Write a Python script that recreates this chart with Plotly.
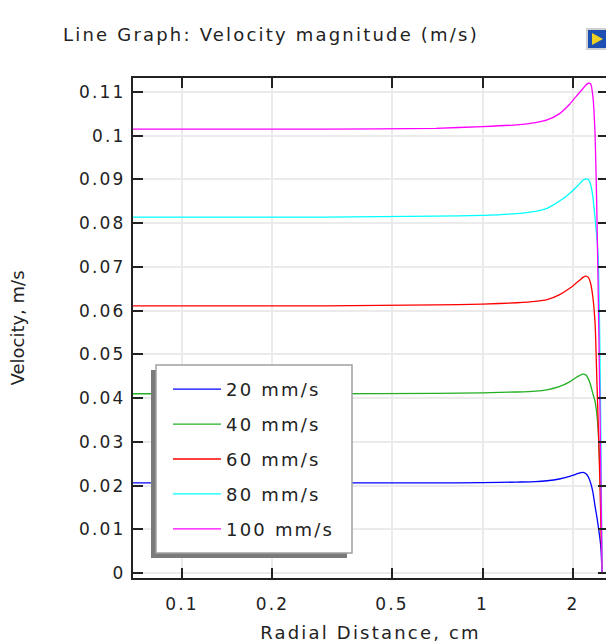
import plotly.graph_objects as go

# Data
radial_cm = [0.0687, 0.3, 0.7, 1.0, 1.3, 1.5, 1.64, 1.8, 1.95, 2.05, 2.11, 2.16, 2.21, 2.25, 2.29,
             2.33, 2.37, 2.40, 2.43, 2.46, 2.48, 2.5]

vel_20 = [0.0206, 0.0206, 0.02062, 0.02065, 0.0208, 0.0209, 0.0211, 0.0215, 0.0221, 0.0226, 0.0229,
          0.0230, 0.0227, 0.0220, 0.0206, 0.0185, 0.0152, 0.0130, 0.0105, 0.0078, 0.0053, 0.0]
vel_40 = [0.0410, 0.0410, 0.0411, 0.0412, 0.0414, 0.0416, 0.0419, 0.0426, 0.0437, 0.0447, 0.0452,
          0.0455, 0.0453, 0.0444, 0.0430, 0.0410, 0.0392, 0.0365, 0.0320, 0.0230, 0.0130, 0.0]
vel_60 = [0.0611, 0.0611, 0.0613, 0.0615, 0.0618, 0.0621, 0.0625, 0.0636, 0.0651, 0.0663, 0.0670,
          0.0676, 0.0679, 0.0676, 0.0662, 0.0630, 0.0570, 0.0450, 0.0330, 0.0200, 0.0100, 0.0]
vel_80 = [0.0814, 0.0814, 0.0816, 0.0818, 0.0822, 0.0827, 0.0834, 0.0850, 0.0868, 0.0882, 0.0891,
          0.0898, 0.0901, 0.0900, 0.0888, 0.0860, 0.0810, 0.0770, 0.0716, 0.0500, 0.0280, 0.0]
vel_100 = [0.1015, 0.1015, 0.1017, 0.1021, 0.1025, 0.1030, 0.1036, 0.1050, 0.1072, 0.1090, 0.1100,
           0.1108, 0.1116, 0.1120, 0.1119, 0.1090, 0.1000, 0.0840, 0.0620, 0.0370, 0.0190, 0.0]

series_names = ["20 mm/s", "40 mm/s", "60 mm/s", "80 mm/s", "100 mm/s"]
series_values = [vel_20, vel_40, vel_60, vel_80, vel_100]
series_colors = ["#0000ff", "#22b022", "#ff0000", "#00ffff", "#ff00ff"]

x_tickvals = [0.1, 0.2, 0.5, 1, 2]
x_ticktext = ["0.1", "0.2", "0.5", "1", "2"]
y_tickvals = [0, 0.01, 0.02, 0.03, 0.04, 0.05, 0.06, 0.07, 0.08, 0.09, 0.1, 0.11]
y_ticktext = ["0", "0.01", "0.02", "0.03", "0.04", "0.05", "0.06", "0.07", "0.08", "0.09", "0.1", "0.11"]

FONT = "DejaVu Sans"
TXT = "#222222"
W, H = 608, 644   # 2 px wider than the window: right frame falls just outside, as in the reference
# plot area in screen pixels
PL, PR, PT, PB = 133, 608, 78, 578
ML, MT = PL, PT
MB = H - PB
pw, ph = PR - PL, PB - PT


def sp(text, ls=2.2):
    return f'<span style="letter-spacing:{ls}px">{text}</span>'


def px2paper(x, y):
    return (x - PL) / pw, (PB - y) / ph


fig = go.Figure()
for i, (name, vals, col) in enumerate(zip(series_names, series_values, series_colors)):
    fig.add_trace(go.Scatter(
        x=radial_cm, y=vals, name=sp(name), mode="lines",
        line=dict(color=col, width=1.3, shape="spline", smoothing=0.5),
        legendgroup=f"g{i}",
    ))

# legend box with drop shadow
sx0, sy0 = px2paper(151, 370)
sx1, sy1 = px2paper(347, 558)
fig.add_shape(type="rect", xref="paper", yref="paper", x0=sx0, y0=sy1, x1=sx1, y1=sy0,
              fillcolor="#7a7a7a", line=dict(width=0), layer="above")
bx0, by0 = px2paper(156, 365)
bx1, by1 = px2paper(352, 553)
fig.add_shape(type="rect", xref="paper", yref="paper", x0=bx0, y0=by1, x1=bx1, y1=by0,
              fillcolor="white", line=dict(color="#a0a0a0", width=1.5), layer="above")

lx, ly = px2paper(168, 371)

# small corner icon
ix0, iy0 = px2paper(587, 29)
ix1, iy1 = px2paper(607, 49)
tx0, ty0 = px2paper(592, 33)
tx1, ty1 = px2paper(603, 39)
tx2, ty2 = px2paper(592, 45)
fig.add_shape(type="rect", xref="paper", yref="paper", x0=ix0, x1=ix1, y0=iy1, y1=iy0,
              fillcolor="#1e50b4", line=dict(color="#d0d0d0", width=2))
fig.add_shape(type="path", xref="paper", yref="paper",
              path=f"M {tx0} {ty0} L {tx1} {ty1} L {tx2} {ty2} Z",
              fillcolor="#f0d020", line=dict(width=0))

fig.update_layout(
    width=W, height=H,
    margin=dict(l=ML, r=0, t=MT, b=MB, autoexpand=False),
    paper_bgcolor="white", plot_bgcolor="white",
    font=dict(family=FONT, size=17, color=TXT),
    title=dict(text=sp("Line Graph: Velocity magnitude (m/s)"), x=63 / W, xanchor="left",
               y=1 - 35 / H, yanchor="middle", font=dict(family=FONT, size=18, color=TXT)),
    showlegend=True,
    legend=dict(x=lx, y=ly, xanchor="left", yanchor="top", bgcolor="rgba(0,0,0,0)",
                borderwidth=0, font=dict(family=FONT, size=18, color=TXT),
                tracegroupgap=8.5, itemwidth=48),
    xaxis=dict(type="log", range=[-1.163, (PR - 182) / 300.5 - 1], tickvals=x_tickvals,
               ticktext=[sp(t) for t in x_ticktext],
               ticks="inside", ticklen=10, tickwidth=1.5, tickcolor=TXT,
               showline=True, linecolor=TXT, linewidth=2, mirror="ticks",
               showgrid=True, gridcolor="#ebebeb", gridwidth=1.5, zeroline=False,
               ticklabelstandoff=10,
               title=dict(text=sp("Radial Distance, cm"), standoff=13, font=dict(size=18)),
               tickfont=dict(size=17)),
    yaxis=dict(range=[-0.00114, 0.1132], tickvals=y_tickvals,
               ticktext=[sp(t) for t in y_ticktext],
               ticks="inside", ticklen=10, tickwidth=1.5, tickcolor=TXT,
               showline=True, linecolor=TXT, linewidth=2, mirror="ticks",
               showgrid=True, gridcolor="#ebebeb", gridwidth=1.5, zeroline=False,
               ticklabelstandoff=2,
               title=dict(text="Velocity, m/s", standoff=50, font=dict(size=18)),
               tickfont=dict(size=17)),
)

fig.write_html("out.html",
               config={"displayModeBar": False},
               post_script="document.body.style.margin='0';"
                           "document.documentElement.style.overflow='hidden';"
                           "document.body.style.overflow='hidden';")
